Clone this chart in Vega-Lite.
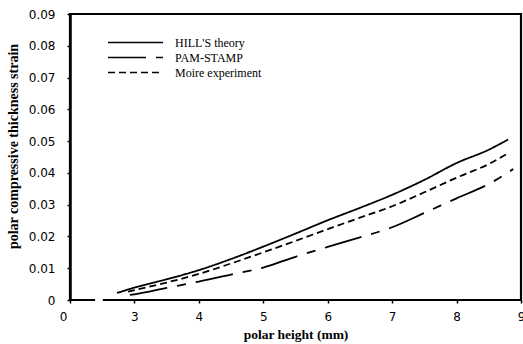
{
  "$schema": "https://vega.github.io/schema/vega-lite/v6.json",
  "width": 451,
  "height": 286,
  "autosize": {"type": "none"},
  "padding": {"left": 70, "top": 14, "right": 2, "bottom": 44},
  "background": "white",
  "config": {
    "view": {"stroke": "black", "strokeWidth": 2.2, "fill": null},
    "axis": {
      "domainColor": "black", "domainWidth": 2.5, "tickColor": "black",
      "labelColor": "black", "titleColor": "black", "grid": false, "zindex": 1,
      "labelFont": "DejaVu Sans", "labelFontSize": 12,
      "titleFont": "Liberation Serif", "titleFontWeight": "bold", "titleFontSize": 13.5
    }
  },
  "encoding": {
    "x": {
      "field": "x", "type": "quantitative",
      "scale": {"domain": [2, 9], "nice": false, "zero": false},
      "axis": {
        "values": [2, 3, 4, 5, 6, 7, 8, 9],
        "labelExpr": "datum.value == 2 ? '0' : format(datum.value, 'd')",
        "labelOffset": {"condition": {"test": "datum.value == 2", "value": -7}, "value": 0},
        "domain": false,
        "ticks": true, "tickSize": 3, "tickWidth": 1.5,
        "labelPadding": 8, "labelFlush": false, "labelOverlap": false,
        "title": "polar height (mm)", "titlePadding": 5
      }
    },
    "y": {
      "field": "y", "type": "quantitative",
      "scale": {"domain": [0, 0.09], "nice": false},
      "axis": {
        "values": [0, 0.01, 0.02, 0.03, 0.04, 0.05, 0.06, 0.07, 0.08, 0.09],
        "labelExpr": "datum.value == 0 ? '0' : format(datum.value, '.2f')",
        "ticks": true, "tickSize": 3, "tickWidth": 1.5,
        "labelPadding": 12, "labelFlush": false, "labelOverlap": false,
        "title": "polar compressive thickness strain", "titlePadding": 8,
        "titleFontSize": 14, "titleY": 132
      }
    }
  },
  "layer": [
    {
      "data": {"values": [
        {"series": "HILL'S theory", "x": 2.73, "y": 0.0022},
        {"series": "HILL'S theory", "x": 3.0, "y": 0.0039},
        {"series": "HILL'S theory", "x": 3.5, "y": 0.0065},
        {"series": "HILL'S theory", "x": 4.0, "y": 0.0094},
        {"series": "HILL'S theory", "x": 4.5, "y": 0.0129},
        {"series": "HILL'S theory", "x": 5.0, "y": 0.0168},
        {"series": "HILL'S theory", "x": 5.5, "y": 0.0209},
        {"series": "HILL'S theory", "x": 6.0, "y": 0.0251},
        {"series": "HILL'S theory", "x": 6.5, "y": 0.0290},
        {"series": "HILL'S theory", "x": 7.0, "y": 0.0331},
        {"series": "HILL'S theory", "x": 7.5, "y": 0.0378},
        {"series": "HILL'S theory", "x": 8.0, "y": 0.0431},
        {"series": "HILL'S theory", "x": 8.5, "y": 0.0473},
        {"series": "HILL'S theory", "x": 8.8, "y": 0.0505},
        {"series": "PAM-STAMP", "x": 2.93, "y": 0.0016},
        {"series": "PAM-STAMP", "x": 3.0, "y": 0.0018},
        {"series": "PAM-STAMP", "x": 3.5, "y": 0.0038},
        {"series": "PAM-STAMP", "x": 4.0, "y": 0.0058},
        {"series": "PAM-STAMP", "x": 4.5, "y": 0.0080},
        {"series": "PAM-STAMP", "x": 5.0, "y": 0.0102},
        {"series": "PAM-STAMP", "x": 5.5, "y": 0.0136},
        {"series": "PAM-STAMP", "x": 6.0, "y": 0.0167},
        {"series": "PAM-STAMP", "x": 6.5, "y": 0.0197},
        {"series": "PAM-STAMP", "x": 7.0, "y": 0.0229},
        {"series": "PAM-STAMP", "x": 7.5, "y": 0.0274},
        {"series": "PAM-STAMP", "x": 8.0, "y": 0.0320},
        {"series": "PAM-STAMP", "x": 8.5, "y": 0.0365},
        {"series": "PAM-STAMP", "x": 8.88, "y": 0.0412},
        {"series": "Moire experiment", "x": 2.9, "y": 0.0026},
        {"series": "Moire experiment", "x": 3.0, "y": 0.0031},
        {"series": "Moire experiment", "x": 3.5, "y": 0.0055},
        {"series": "Moire experiment", "x": 4.0, "y": 0.0082},
        {"series": "Moire experiment", "x": 4.5, "y": 0.0115},
        {"series": "Moire experiment", "x": 5.0, "y": 0.0150},
        {"series": "Moire experiment", "x": 5.5, "y": 0.0186},
        {"series": "Moire experiment", "x": 6.0, "y": 0.0223},
        {"series": "Moire experiment", "x": 6.5, "y": 0.0259},
        {"series": "Moire experiment", "x": 7.0, "y": 0.0295},
        {"series": "Moire experiment", "x": 7.5, "y": 0.0339},
        {"series": "Moire experiment", "x": 8.0, "y": 0.0385},
        {"series": "Moire experiment", "x": 8.5, "y": 0.0428},
        {"series": "Moire experiment", "x": 8.8, "y": 0.0462}
      ]},
      "mark": {"type": "line", "color": "black", "strokeWidth": 1.8, "interpolate": "monotone"},
      "encoding": {
        "strokeDash": {
          "field": "series", "type": "nominal",
          "scale": {
            "domain": ["HILL'S theory", "PAM-STAMP", "Moire experiment"],
            "range": [[1, 0], [38, 10, 9, 10], [7, 4]]
          },
          "legend": {
            "orient": "none", "legendX": 37, "legendY": 21,
            "title": null, "symbolType": "stroke", "symbolSize": 3025,
            "symbolStrokeWidth": 1.5, "symbolStrokeColor": "black",
            "labelFont": "Liberation Serif", "labelFontSize": 12, "labelColor": "black",
            "labelOffset": 11, "clipHeight": 15, "rowPadding": 0, "padding": 0
          }
        }
      }
    },
    {
      "data": {"values": [{"x": 2.39, "x2": 2.51, "y": 0}]},
      "mark": {"type": "rule", "color": "white", "strokeWidth": 6},
      "encoding": {
        "x2": {"field": "x2"}
      }
    }
  ]
}
